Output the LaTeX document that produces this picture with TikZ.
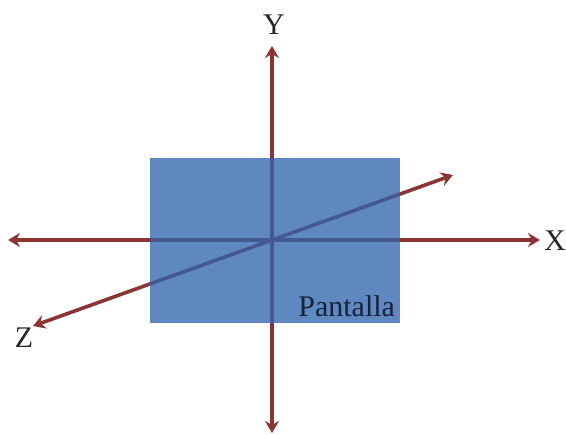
\documentclass[tikz,border=0pt]{standalone}
\usepackage{fontspec}
\setmainfont{Liberation Serif}
\usetikzlibrary{arrows.meta}
\begin{document}
\begin{tikzpicture}[x=1pt, y=-1pt]
    \definecolor{axisColour}{HTML}{8A3533}
    \definecolor{screenColour}{HTML}{2F64AE}
    \definecolor{textColour}{HTML}{14223A}

    \tikzset{
        axis/.style={axisColour, line width=3.6pt,
            {Stealth[length=12pt, width=14pt, inset=4pt]}-{Stealth[length=12pt, width=14pt, inset=4pt]}},
        axisName/.style={inner sep=0pt, text=black!85, font=\fontsize{30}{30}\selectfont}
    }

    \useasboundingbox (0,0) rectangle (566,435);

    % Axis end points
    \coordinate (O) at (272,240);
    \coordinate (Xminus) at (8,240);
    \coordinate (Xplus) at (540,240);
    \coordinate (Yplus) at (272,46);
    \coordinate (Yminus) at (272,433);
    \coordinate (Zplus) at (33,326);
    \coordinate (Zminus) at (453,175);

    % Draw axes
    \draw[axis] (Xminus) -- (Xplus);
    \draw[axis] (Yminus) -- (Yplus);
    \draw[axis] (Zminus) -- (Zplus);

    % Screen in front of the axes
    \node[fill=screenColour, fill opacity=0.77, inner sep=0pt,
        minimum width=250pt, minimum height=165pt] (screen) at (275,240.5) {};
    \node[anchor=base east, inner sep=0pt, text=textColour,
        font=\fontsize{30}{30}\selectfont] (screenName) at ([shift={(-5,-7)}]screen.south east) {Pantalla};

    % Label axes
    \node[axisName, anchor=base] (xName) at (555,251) {X};
    \node[axisName, anchor=base] (yName) at (274,35) {Y};
    \node[axisName, anchor=base] (zName) at (24,348) {Z};

\end{tikzpicture}
\end{document}
